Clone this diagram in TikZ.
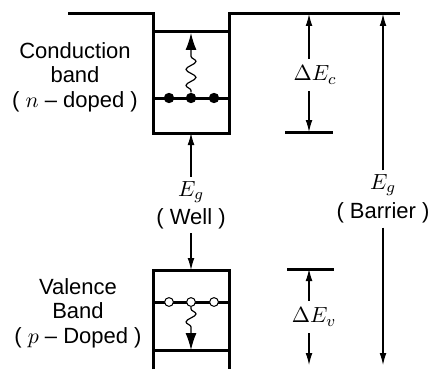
\documentclass[tikz,border=0pt]{standalone}
\usepackage{fontspec}
\setmainfont{Liberation Sans}
\usetikzlibrary{arrows.meta,decorations.pathmorphing}
\tikzset{
  band/.style={line width=1.5pt},
  dimarr/.style={line width=0.55pt, -{Latex[length=6pt,width=3.4pt]}},
  wavearr/.style={line width=0.6pt, -{Latex[length=8.5pt,width=5.5pt]}, decorate,
    decoration={snake, amplitude=2.5pt, segment length=8pt, pre length=1pt, post length=9.5pt}},
  edot/.style={circle, fill=black, inner sep=0pt, minimum size=5.2pt},
  hole/.style={circle, draw, fill=white, line width=0.5pt, inner sep=0pt, minimum size=4.4pt},
}
\begin{document}
\begin{tikzpicture}[x=0.5pt, y=-0.5pt, font=\fontsize{11}{12.3}\selectfont]
  \useasboundingbox (0,0) rectangle (431,369);
  % conduction band edges
  \draw[band] (68,14) -- (153,14) -- (153,133) -- (229,133) -- (229,14) -- (400,14);
  \draw[band] (153,32) -- (229,32);
  \draw[band] (153,98) -- (229,98);
  \draw[band] (285,132) -- (333,132);
  % valence band edges
  \draw[band] (153,369) -- (153,270) -- (229,270) -- (229,369);
  \draw[band] (153,302) -- (229,302);
  \draw[band] (153,350) -- (229,350);
  \draw[band] (287,269) -- (334,269);
  % end points of the arrows
  \coordinate (cwtop) at (191,33);
  \coordinate (cwbot) at (191,133);
  \coordinate (vwtop) at (191,270);
  \coordinate (vwbot) at (191,350);
  \coordinate (ectop) at (309,14);
  \coordinate (ecbot) at (309,132);
  \coordinate (evtop) at (309,269);
  \coordinate (evbot) at (309,365);
  \coordinate (bartop) at (383,14);
  \coordinate (barbot) at (383,365);
  % electrons and holes
  \node[edot] (e1) at (169,98) {};
  \node[edot] (e2) at (191,98) {};
  \node[edot] (e3) at (214,98) {};
  \node[hole] (h1) at (169,302) {};
  \node[hole] (h2) at (191,302) {};
  \node[hole] (h3) at (214,302) {};
  \draw[wavearr] (e2) -- (cwtop);
  \draw[wavearr] (h2) -- (vwbot);
  % labels
  \node[align=center] (cblbl) at (75,77) {Conduction\\band\\( $n$ -- doped )};
  \node[align=center] (vblbl) at (78,313) {Valence\\Band\\( $p$ -- Doped )};
  \node[align=center, inner sep=2pt, font=\fontsize{11}{14}\selectfont] (welllbl) at (191,205) {$E_g$\\( Well )};
  \node[align=center, inner sep=2pt, font=\fontsize{11}{14.5}\selectfont] (barlbl) at (383,199) {$E_g$\\( Barrier )};
  \node (dEc) at (315,75) {$\Delta E_c$};
  \node (dEv) at (314,317) {$\Delta E_v$};
  % arrows
  \draw[dimarr] (welllbl) -- (cwbot);
  \draw[dimarr] (welllbl) -- (vwtop);
  \draw[dimarr] (dEc.north -| ectop) -- (ectop);
  \draw[dimarr] (dEc.south -| ecbot) -- (ecbot);
  \draw[dimarr] (dEv.north -| evtop) -- (evtop);
  \draw[dimarr] (dEv.south -| evbot) -- (evbot);
  \draw[dimarr] (barlbl) -- (bartop);
  \draw[dimarr] (barlbl) -- (barbot);
\end{tikzpicture}
\end{document}
